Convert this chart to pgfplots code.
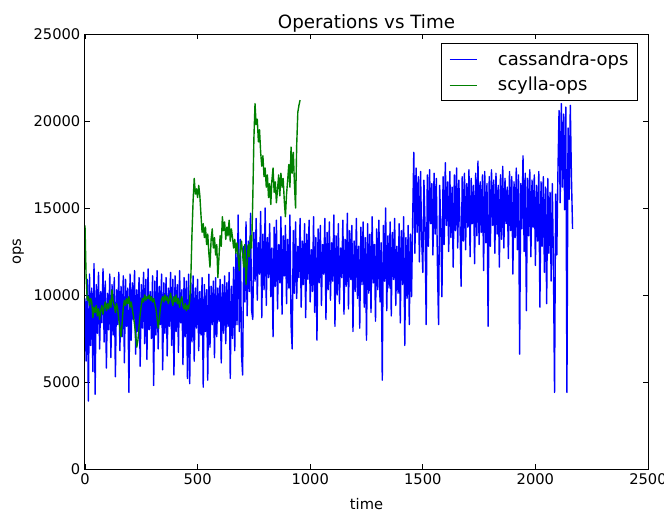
\documentclass[border=0pt]{standalone}
\usepackage{pgfplots}
\pgfplotsset{compat=1.18}
\usepackage{fontspec}
\setmainfont{DejaVu Sans}

\definecolor{mplgreen}{rgb}{0,0.5,0}

\begin{document}
\begin{tikzpicture}
\begin{axis}[
    scale only axis, width=422.25pt, height=326.25pt,
    xmin=0, xmax=2500, ymin=0, ymax=25000,
    xtick={0,500,...,2500}, ytick={0,5000,...,25000},
    scaled ticks=false,
    /pgf/number format/assume math mode=true,
    /pgf/number format/1000 sep={},
    tick align=inside, major tick length=3.75pt,
    every tick/.style={black, line width=0.6pt},
    axis line style={black, line width=0.75pt},
    tick label style={font=\fontsize{11}{13}\selectfont},
    title={Operations vs Time},
    every axis title/.style={font=\fontsize{13.7}{16}\selectfont, at={(axis description cs:0.5,1)}, anchor=center, yshift=8pt},
    xlabel={time}, ylabel={ops},
    xlabel style={font=\fontsize{11}{13}\selectfont, at={([yshift=-26.5pt]axis description cs:0.5,0)}, anchor=center},
    ylabel style={font=\fontsize{11}{13}\selectfont, at={([xshift=-50pt]axis description cs:0,0.5)}, anchor=center},
    legend style={at={([xshift=-7.5pt,yshift=-6.75pt]axis description cs:1,1)}, anchor=north east,
        font=\fontsize{13.5}{16}\selectfont, draw=black, line width=0.75pt,
        inner xsep=5.75pt, inner ysep=5pt, row sep=5.5pt, column sep=14.5pt,
        nodes={inner xsep=1pt, inner ysep=1pt}},
    legend cell align=left,
    legend image code/.code={\draw[#1, line width=0.75pt] (0pt,0pt) -- (20.25pt,0pt);},
]
\addplot[blue, line width=1.05pt, line join=round, no marks] coordinates {
(0,9800)(5,6200)(10,10900)(15,3900)(20,11200)(25,7100)(30,10400)(35,5600)(40,11800)(45,4300)
(50,10600)(55,7800)(60,11300)(65,6900)(70,10200)(75,8400)(80,11500)(85,7300)(90,10800)(95,5800)
(100,10100)(105,8000)(110,11200)(115,6400)(120,10600)(125,7700)(130,11000)(135,5300)(140,10300)(145,8300)
(150,11300)(155,6800)(160,10500)(165,7600)(170,11100)(175,6100)(180,10900)(185,8200)(190,10400)(195,4400)
(200,11200)(205,7400)(210,10700)(215,8600)(220,11400)(225,6600)(230,10300)(235,7900)(240,11000)(245,5900)
(250,10600)(255,8100)(260,11300)(265,7200)(270,10900)(275,6300)(280,11500)(285,8000)(290,10200)(295,7500)
(300,11100)(305,4800)(310,10800)(315,7700)(320,11400)(325,6900)(330,10500)(335,8300)(340,11200)(345,5700)
(350,10700)(355,7800)(360,11000)(365,6500)(370,10400)(375,8200)(380,11300)(385,7100)(390,10900)(395,5400)
(400,11100)(405,7900)(410,10600)(415,6700)(420,11400)(425,8400)(430,10300)(435,6000)(440,11000)(445,7600)
(450,10800)(455,5200)(460,11200)(465,4900)
(470,10700)(475,7300)(480,11100)(485,6200)(490,10400)(495,8100)(500,10900)(505,6800)(510,10200)(515,7700)
(520,11000)(525,4700)(530,10600)(535,7900)(540,10300)(545,5100)(550,11200)(555,7000)(560,10500)(565,8300)
(570,10800)(575,6400)(580,11000)(585,7600)(590,10400)(595,8500)(600,10900)(605,6100)(610,10600)(615,7800)
(620,11100)(625,7200)(630,10700)(635,8200)(640,11300)(645,5200)(650,10500)(655,7500)(660,11600)(665,6800)
(670,12400)(675,8300)(680,14600)(685,7900)(690,13200)(695,6600)
(700,5400)(705,12800)(710,9600)(715,14200)(720,8800)(725,13100)(730,10200)(735,14700)(740,9100)(745,8600)
(750,13600)(755,10800)(760,14400)(765,9700)(770,13000)(775,11200)(780,14800)(785,8700)(790,13500)(795,10300)
(800,15000)(805,9400)(810,13300)(815,11000)(820,14100)(825,9900)(830,12700)(835,7600)(840,13900)(845,10500)
(850,14300)(855,9200)(860,12900)(865,10700)(870,14500)(875,8900)(880,13400)(885,11100)(890,14000)(895,9500)
(900,13200)(905,10400)(910,14600)(915,8300)(920,6900)(925,13700)(930,10100)(935,14200)(940,9800)(945,12800)
(950,11000)(955,14400)(960,9300)(965,13100)(970,10600)(975,14100)(980,8700)(985,13500)(990,10900)(995,14300)
(1000,9600)(1005,12600)(1010,10200)(1015,14500)(1020,9000)(1025,13300)(1030,7400)(1035,13800)(1040,10700)(1045,14000)
(1050,9400)(1055,12900)(1060,11200)(1065,14400)(1070,8600)(1075,13600)(1080,10300)(1085,14200)(1090,9700)(1095,13000)
(1100,10800)(1105,14600)(1110,8200)(1115,13400)(1120,10000)(1125,14100)(1130,9500)(1135,12700)(1140,11000)(1145,14300)
(1150,8900)(1155,13200)(1160,10500)(1165,14700)(1170,9200)(1175,13700)(1180,10900)(1185,14000)(1190,7900)(1195,13100)
(1200,10200)(1205,14400)(1210,9800)(1215,12800)(1220,8100)(1225,13900)(1230,10600)(1235,14200)(1240,9300)(1245,13300)
(1250,7400)(1255,14100)(1260,10100)(1265,13500)(1270,9000)(1275,14500)(1280,10700)(1285,12900)(1290,8500)(1295,13800)
(1300,10300)(1305,14300)(1310,9600)(1315,13000)(1320,5100)(1325,14000)(1330,10800)(1335,15000)(1340,9100)(1345,13400)
(1350,10400)(1355,14200)(1360,8800)(1365,13600)(1370,10900)(1375,14400)(1380,9400)(1385,12800)(1390,10100)(1395,14100)
(1400,8400)(1405,13700)(1410,10600)(1415,14500)(1420,7100)(1425,13300)(1430,9800)(1435,14000)(1440,8300)(1445,13500)
(1450,9900)(1455,14300)
(1460,18200)(1465,12400)(1470,17300)(1475,13600)(1480,16800)(1485,11900)(1490,17100)(1495,13200)(1500,11300)(1505,16600)
(1510,13900)(1515,8300)(1520,16900)(1525,12800)(1530,17200)(1535,14100)(1540,16400)(1545,12300)(1550,17000)(1555,13500)
(1560,16700)(1565,11700)(1570,8300)(1575,16300)(1580,13800)(1585,9900)(1590,16800)(1595,12900)(1600,17600)(1605,14000)
(1610,16500)(1615,12500)(1620,17100)(1625,13300)(1630,16200)(1635,11600)(1640,16900)(1645,13700)(1650,17300)(1655,12700)
(1660,16600)(1665,14200)(1670,10500)(1675,16800)(1680,13100)(1685,17000)(1690,12600)(1695,16400)(1700,13900)(1705,17200)
(1710,12200)(1715,16700)(1720,14100)(1725,16300)(1730,11800)(1735,17000)(1740,13400)(1745,17700)(1750,12900)(1755,16500)
(1760,13600)(1765,16900)(1770,11400)(1775,17100)(1780,13000)(1785,16400)(1790,8200)(1795,16800)(1800,12800)(1805,17200)
(1810,14000)(1815,16600)(1820,12400)(1825,17000)(1830,13500)(1835,16300)(1840,11600)(1845,16900)(1850,13200)(1855,17400)
(1860,12700)(1865,16700)(1870,14100)(1875,16200)(1880,12100)(1885,17100)(1890,13700)(1895,16800)(1900,11200)(1905,16500)
(1910,13300)(1915,17300)(1920,12600)(1925,16900)(1930,6600)(1935,16400)(1940,13800)(1945,18000)(1950,12500)(1955,17000)
(1960,9100)(1965,16700)(1970,13400)(1975,17200)(1980,12200)(1985,16600)(1990,13900)(1995,16900)(2000,11700)(2005,16300)
(2010,13100)(2015,17100)(2020,9300)(2025,16500)(2030,12800)(2035,16800)(2040,11300)(2045,16200)(2050,9500)(2055,16700)
(2060,12400)(2065,15900)(2070,10800)(2075,16400)(2080,11900)(2085,4400)(2090,15800)(2095,12300)(2100,17000)
(2105,20600)(2110,15300)(2115,21000)(2120,16200)(2125,20400)(2130,14900)(2135,20800)(2140,4400)(2145,19600)(2150,15500)
(2155,20900)(2160,16800)(2165,13800)
};
\addlegendentry{cassandra-ops}
\addplot[mplgreen, line width=1.05pt, line join=round, no marks] coordinates {
(0,14000)(5,11000)(10,9700)(15,9900)(20,9400)(25,9800)(30,9600)(35,8700)(40,9300)(45,9000)
(50,9400)(55,8800)(60,9200)(65,8600)(70,9100)(75,9400)(80,8900)(85,9300)(90,9600)(95,9100)
(100,9500)(105,9200)(110,9700)(115,9300)(120,10300)(125,9600)(130,9400)(135,9000)(140,9500)(145,9200)
(150,8600)(155,8100)(160,7600)(165,8400)(170,9300)(175,9700)(180,9400)(185,9800)(190,9500)(195,9900)
(200,9300)(205,9600)(210,9200)(215,8800)(220,8300)(225,7700)(230,7000)(235,7400)(240,8200)(245,8900)
(250,9400)(255,9800)(260,9600)(265,10000)(270,9700)(275,9900)(280,9800)(285,10000)(290,9700)(295,9900)
(300,9600)(305,9800)(310,9500)(315,9200)(320,8700)(325,8100)(330,8600)(335,9300)(340,9700)(345,9900)
(350,9600)(355,10000)(360,9700)(365,9900)(370,9500)(375,9800)(380,10100)(385,9700)(390,9400)(395,9900)
(400,9600)(405,10000)(410,9500)(415,9800)(420,9300)(425,9700)(430,9900)(435,9400)(440,9200)(445,9500)
(450,9100)(455,9400)(460,9200)(465,9700)(470,11000)(475,13500)(480,15400)(485,16700)(490,15800)(495,16100)
(500,15600)(505,16300)(510,15700)(515,14600)(520,13600)(525,14100)(530,13300)(535,13900)(540,12900)(545,13500)
(550,12400)(555,11600)(560,13200)(565,13800)(570,12700)(575,13300)(580,12300)(585,12900)(590,11000)(595,12200)
(600,13400)(605,12800)(610,14500)(615,13700)(620,14200)(625,13200)(630,13900)(635,13400)(640,14300)(645,13100)
(650,13800)(655,13300)(660,12700)(665,13200)(670,12400)(675,13000)(680,12200)(685,11400)(690,12600)(695,13100)
(700,12300)(705,11600)(710,12900)(715,10600)(720,11800)(725,12900)(730,12200)(735,13400)(740,12700)(745,15500)
(750,19000)(755,21000)(760,19800)(765,20100)(770,18800)(775,19500)(780,18200)(785,17400)(790,18000)(795,16800)
(800,17300)(805,16200)(810,16900)(815,15600)(820,16400)(825,15200)(830,16600)(835,17300)(840,15900)(845,16500)
(850,15300)(855,16100)(860,16900)(865,15700)(870,17000)(875,16200)(880,16700)(885,15400)(890,14500)(895,15800)
(900,16600)(905,17500)(910,16200)(915,18500)(920,17000)(925,18200)(930,16400)(935,15000)(940,18600)(945,20500)
(950,20900)(955,21200)
};
\addlegendentry{scylla-ops}
\end{axis}
\pgfresetboundingbox
\path ([shift={(-63.75pt,-31.5pt)}]current axis.south west) rectangle ([shift={(12pt,25.5pt)}]current axis.north east);
\end{tikzpicture}
\end{document}
